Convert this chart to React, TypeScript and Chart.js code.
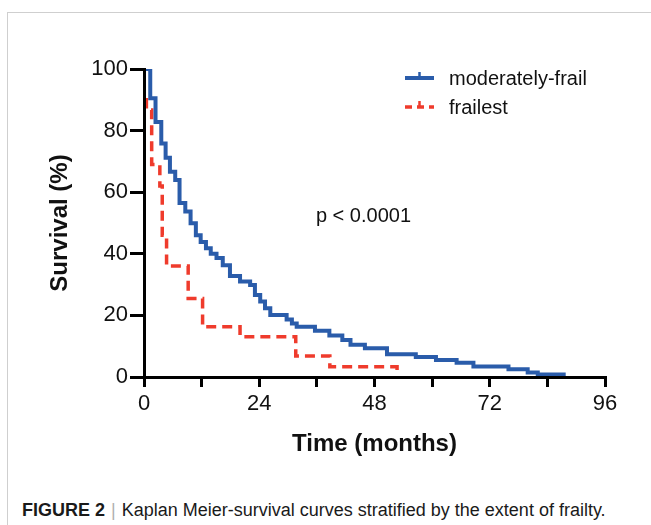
import React, { useEffect, useRef } from 'react';
import { Chart, registerables } from 'chart.js';

Chart.register(...registerables);

// ---- data ----
const seriesNames = ['moderately-frail', 'frailest'];
const moderateMonths = [0, 1.3, 2.4, 3.6, 4.5, 5.4, 6.5, 7.4, 8.6, 9.7, 10.8, 11.8, 12.9, 13.9, 15.1, 16.4, 17.9, 20.0, 22.1, 23.1, 24.2, 25.2, 26.3, 29.7, 30.8, 31.8, 35.6, 38.6, 41.3, 43.0, 46.0, 50.6, 56.6, 60.8, 65.1, 68.6, 75.9, 79.9, 82.0, 87.4];
const moderateSurvival = [100, 90.5, 82.8, 75.8, 71.2, 66.6, 64.0, 56.5, 53.7, 49.9, 46.0, 43.8, 41.8, 40.0, 38.6, 36.3, 32.8, 31.0, 29.9, 26.6, 24.5, 22.3, 20.1, 18.7, 17.4, 16.3, 15.0, 13.5, 12.0, 10.5, 9.3, 7.4, 6.5, 5.5, 4.6, 3.4, 2.5, 1.5, 0.8, 0];
const frailestMonths = [0, 0, 0.5, 1.6, 3.3, 3.8, 4.7, 9.2, 12.2, 20.0, 31.6, 38.7, 52.7];
const frailestSurvival = [100, 90, 86.7, 69, 62, 46, 36, 25.5, 16.3, 13.1, 6.8, 3.3, 0];
const xLabelEvery = 24;
const xTickStep = 12;
const xMax = 96;
const yTickStep = 20;
const yMax = 100;
const xTitle = 'Time (months)';
const yTitle = 'Survival (%)';
const pValueText = 'p < 0.0001';
const pValueAt = { x: 35.8, y: 52 };
const captionBold = 'FIGURE 2';
const captionText = 'Kaplan Meier-survival curves stratified by the extent of frailty.';

const FONT = '"Liberation Sans", Arial, Helvetica, sans-serif';
const BLUE = '#2a5caa';
const RED = '#ef3b2c';

const toPoints = (xs: number[], ys: number[]) => xs.map((x, i) => ({ x, y: ys[i] }));

const overlayPlugin = {
  id: 'overlay',
  afterDraw(chart: any) {
    const ctx = chart.ctx as CanvasRenderingContext2D;
    const xs = chart.scales.x;
    const ys = chart.scales.y;
    ctx.save();
    // p-value
    ctx.fillStyle = '#111';
    ctx.font = `20px ${FONT}`;
    ctx.textAlign = 'left';
    ctx.textBaseline = 'middle';
    ctx.fillText(pValueText, xs.getPixelForValue(pValueAt.x), ys.getPixelForValue(pValueAt.y));
    // legend
    const rows = [78, 107];
    chart.data.datasets.forEach((ds: any, i: number) => {
      const y = rows[i];
      const x0 = 405;
      const x1 = 434;
      ctx.strokeStyle = ds.borderColor;
      ctx.lineWidth = ds.borderWidth;
      ctx.setLineDash(ds.borderDash && ds.borderDash.length ? [7, 5] : []);
      ctx.beginPath();
      ctx.moveTo(x0, y);
      ctx.lineTo(x1, y);
      ctx.stroke();
      ctx.setLineDash([]);
      ctx.lineWidth = 2.5;
      ctx.beginPath();
      ctx.moveTo(419.5, y - 6);
      ctx.lineTo(419.5, y);
      ctx.stroke();
      ctx.fillStyle = '#111';
      ctx.font = `20px ${FONT}`;
      ctx.textAlign = 'left';
      ctx.textBaseline = 'middle';
      ctx.fillText(ds.label, 449, y + 1);
    });
    ctx.restore();
  },
};

export default function App() {
  const ref = useRef<HTMLCanvasElement | null>(null);

  useEffect(() => {
    if (!ref.current) return;
    const chart = new Chart(ref.current, {
      type: 'line',
      data: {
        datasets: [
          {
            label: seriesNames[0],
            data: toPoints(moderateMonths, moderateSurvival),
            borderColor: BLUE,
            borderWidth: 4,
            stepped: true,
            pointRadius: 0,
            fill: false,
          },
          {
            label: seriesNames[1],
            data: toPoints(frailestMonths, frailestSurvival),
            borderColor: RED,
            borderWidth: 3.5,
            borderDash: [10, 6],
            stepped: true,
            pointRadius: 0,
            fill: false,
          },
        ],
      },
      options: {
        responsive: false,
        animation: false,
        layout: { padding: { top: 69, right: 46, bottom: 0, left: 0 } },
        plugins: { legend: { display: false }, tooltip: { enabled: false } },
        scales: {
          x: {
            type: 'linear',
            min: 0,
            max: xMax,
            afterFit: (s: any) => { s.height = 93; },
            ticks: {
              stepSize: xTickStep,
              autoSkip: false,
              maxRotation: 0,
              padding: 4,
              color: '#111',
              font: { family: FONT, size: 22 },
              callback: (v: any) => (Number(v) % xLabelEvery === 0 ? String(v) : ''),
            },
            grid: { display: true, drawOnChartArea: false, drawTicks: true, tickLength: 10, color: '#000', lineWidth: 3 },
            border: { display: true, color: '#000', width: 3, z: 1 },
            title: { display: true, text: xTitle, color: '#111', font: { family: FONT, size: 24, weight: 'bold' }, padding: { top: 0, bottom: 11 } },
          },
          y: {
            type: 'linear',
            min: 0,
            max: yMax,
            afterFit: (s: any) => { s.width = 144; },
            ticks: {
              stepSize: yTickStep,
              padding: 2,
              color: '#111',
              font: { family: FONT, size: 22 },
            },
            grid: { display: true, drawOnChartArea: false, drawTicks: true, tickLength: 14, color: '#000', lineWidth: 3 },
            border: { display: true, color: '#000', width: 3, z: 1 },
            title: { display: true, text: yTitle, color: '#111', font: { family: FONT, size: 24, weight: 'bold' }, padding: { top: 46, bottom: 0 } },
          },
        },
      },
      plugins: [overlayPlugin],
    } as any);
    return () => chart.destroy();
  }, []);

  return (
    <div style={{ position: 'fixed', left: 0, top: 0, width: 651, height: 525, background: '#fff', overflow: 'hidden' }}>
      <div style={{ position: 'absolute', left: 7, top: 12, width: 700, height: 600, borderLeft: '1.5px solid #cfcfcf', borderTop: '1.5px solid #cfcfcf' }} />
      <canvas ref={ref} width={651} height={470} style={{ position: 'absolute', left: 0, top: 0, width: 651, height: 470 }} />
      <div style={{ position: 'absolute', left: 22, top: 499, fontFamily: FONT, fontSize: 18, lineHeight: '22px', color: '#1a1a1a', whiteSpace: 'nowrap' }}>
        <b>{captionBold}</b>
        <span style={{ color: '#b0b0b0', margin: '0 6px' }}>|</span>
        <span>{captionText}</span>
      </div>
    </div>
  );
}
